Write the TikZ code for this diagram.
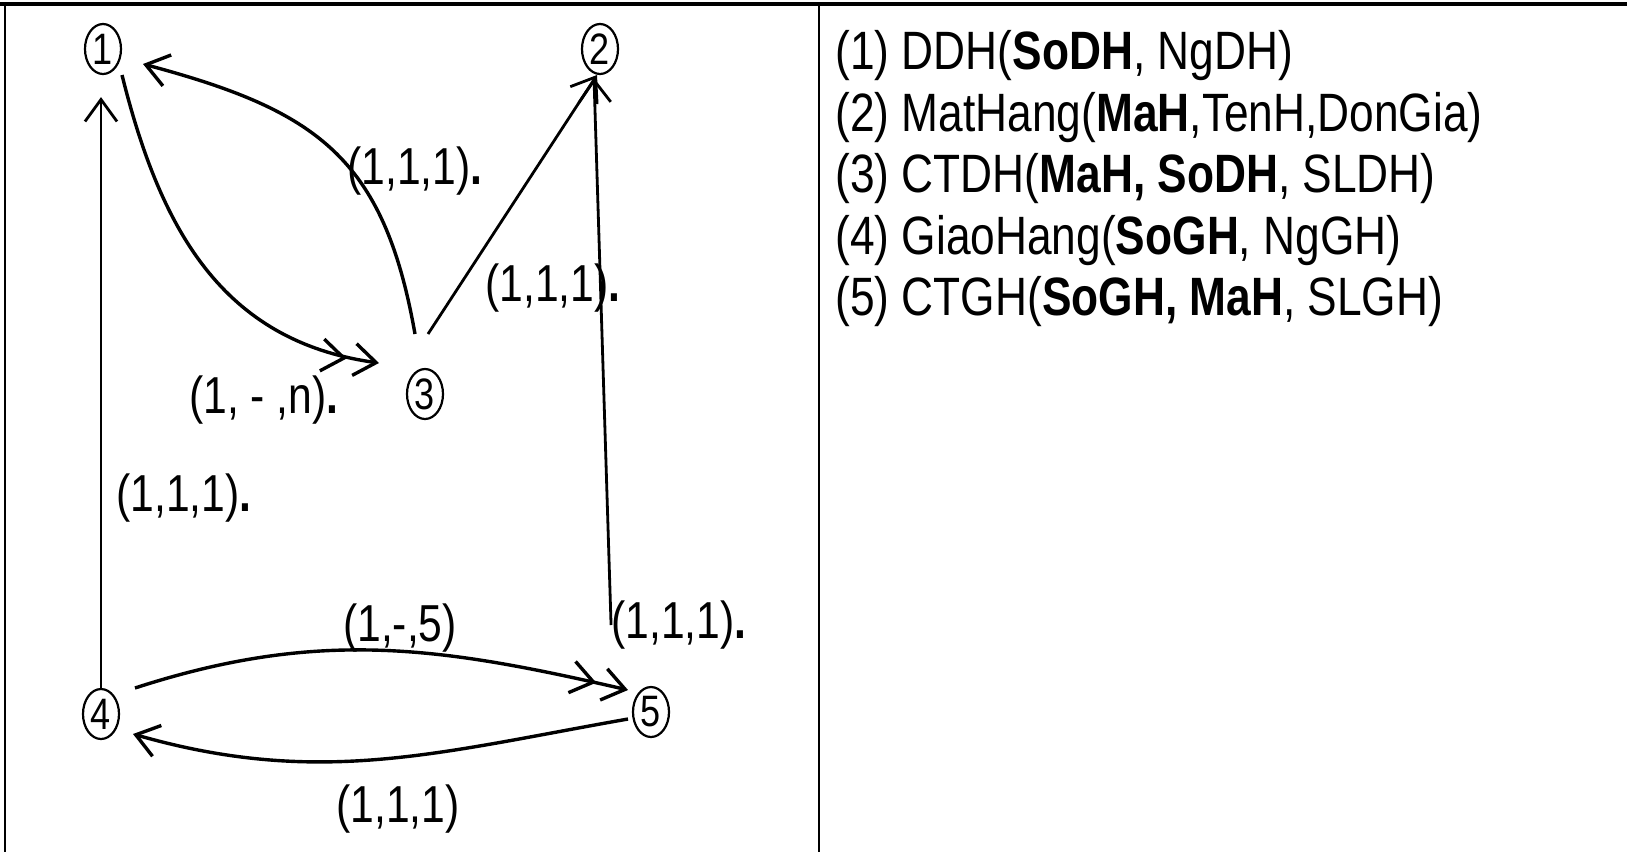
\documentclass[tikz,border=0pt]{standalone}
\usepackage{fontspec}
\setmainfont[FakeStretch=0.82]{Liberation Sans}
\usepackage{tikz}
\usetikzlibrary{positioning,arrows.meta,shapes.geometric}

\begin{document}
\begin{tikzpicture}[
  x=0.5pt, y=-0.5pt,
  >={Straight Barb[length=11pt,width=16pt]},
  ent/.style={draw,ellipse,line width=1.1pt,inner sep=0pt,minimum width=18pt,minimum height=25pt,font=\fontsize{22}{22}\selectfont},
  lbl/.style={inner sep=0pt,font=\fontsize{26}{26}\selectfont},
  txt/.style={inner sep=0pt,anchor=west,font=\fontsize{27}{27}\selectfont},
  rel/.style={line width=1.4pt},
  arc/.style={line width=1.7pt},
  many/.style={-{Straight Barb[length=11pt,width=16pt,sep=3pt] Straight Barb[length=11pt,width=16pt]}}
]
\useasboundingbox (0,0) rectangle (1627,852);
% table frame
\draw[line width=1.6pt] (0,4) -- (1627,4);
\draw[line width=1pt] (5,4) -- (5,852);
\draw[line width=1pt] (819,4) -- (819,852);

% entities
\node[ent] (n1) at (103,49) {1};
\node[ent] (n2) at (600,49) {2};
\node[ent] (n3) at (425,394) {3};
\node[ent] (n4) at (101,714) {4};
\node[ent] (n5) at (651,712) {5};

% cardinality labels
\node[lbl] (l31) at (415,171) {(1,1,1)\textbf{.}};
\node[lbl] (l13) at (264,400) {(1, - ,n)\textbf{.}};
\node[lbl] (l32) at (553,288) {(1,1,1)\textbf{.}};
\node[lbl] (l41) at (184,498) {(1,1,1)\textbf{.}};
\node[lbl] (l52) at (679,625) {(1,1,1)\textbf{.}};
\node[lbl] (l45) at (400,628) {(1,-,5)};
\node[lbl] (l54) at (398,809) {(1,1,1)};

% relations
\draw[rel,->] (n4.north) -- ([shift={(-2,22)}]n1.south);
\draw[arc,many] ([shift={(19,26)}]n1.center) to[out=-76,in=172,looseness=1.05] ([shift={(-46,-31)}]n3.center);
\draw[arc,->] ([shift={(-10,-60)}]n3.center) to[out=100,in=-15,looseness=1.2] ([shift={(40,15)}]n1.center);
\draw[rel,->] ([shift={(3,-60)}]n3.center) -- ([shift={(-3,26)}]n2.center);
\draw[rel,->] (l52.west) -- ([shift={(-6,29)}]n2.center);
\draw[arc,many] ([shift={(34,-26)}]n4.center) to[out=18,in=167] ([shift={(-23,-22)}]n5.center);
\draw[arc,->] ([shift={(-23,7)}]n5.center) to[out=-170,in=-16] ([shift={(32,20)}]n4.center);

% relation schemas
\node[txt] (t1) at (835,56) {(1) DDH(\textbf{SoDH}, NgDH)};
\node[txt] (t2) at (835,118) {(2) MatHang(\textbf{MaH},TenH,DonGia)};
\node[txt] (t3) at (835,179) {(3) CTDH(\textbf{MaH, SoDH}, SLDH)};
\node[txt] (t4) at (835,241) {(4) GiaoHang(\textbf{SoGH}, NgGH)};
\node[txt] (t5) at (835,302) {(5) CTGH(\textbf{SoGH, MaH}, SLGH)};
\end{tikzpicture}
\end{document}
